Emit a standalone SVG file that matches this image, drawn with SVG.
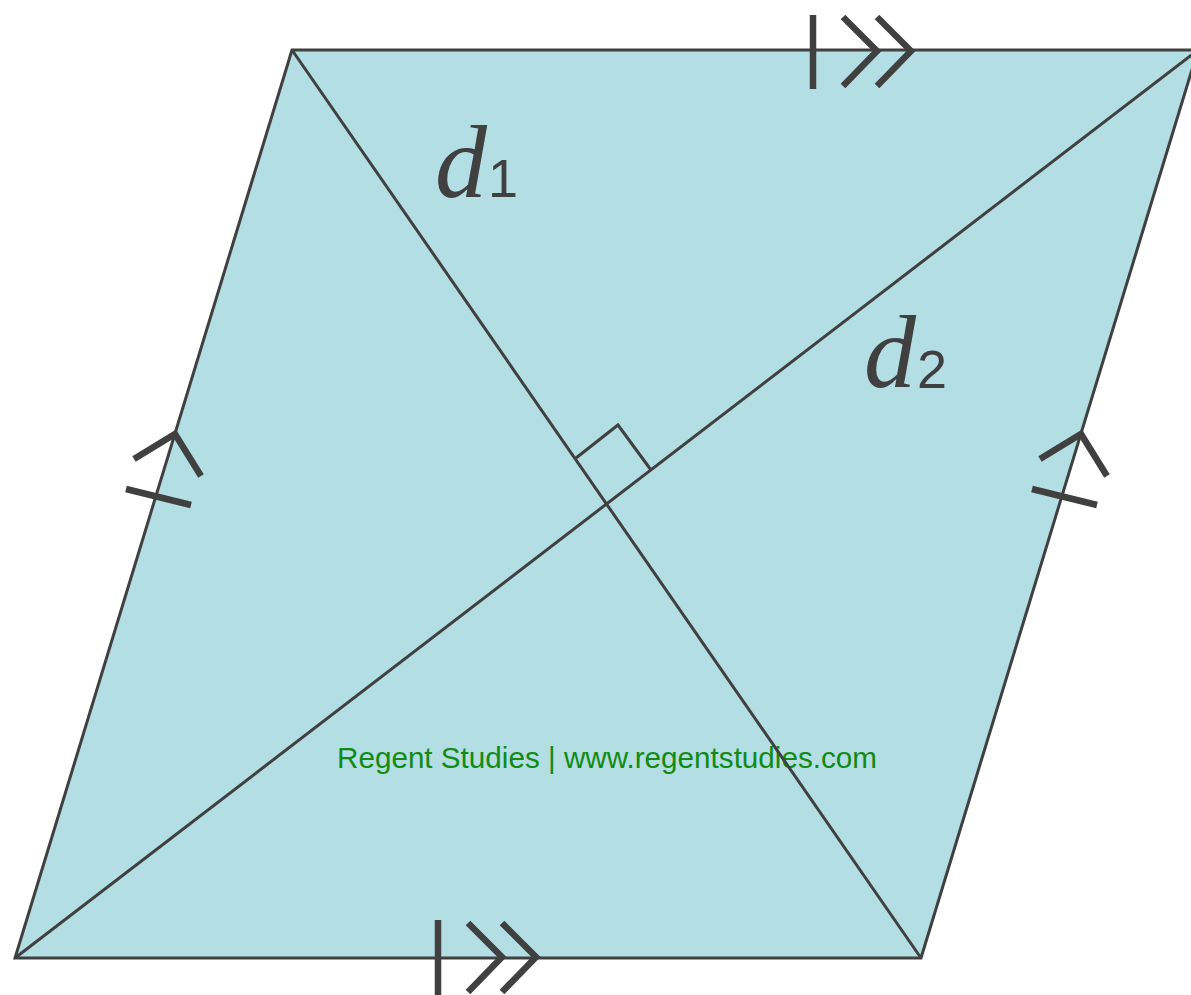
<svg xmlns="http://www.w3.org/2000/svg" width="1191" height="995" viewBox="0 0 1191 995">
<style>
.edge{fill:none;stroke:#404040;stroke-width:3;stroke-linejoin:miter}
.mark{fill:none;stroke:#404040;stroke-width:6.5;stroke-linecap:butt;stroke-linejoin:miter}
.var{font-family:"Liberation Serif",serif;font-style:italic;fill:#404040}
.sub{font-family:"Liberation Sans",sans-serif;fill:#404040}
.wm{font-family:"Liberation Sans Narrow","Liberation Sans",sans-serif;fill:#138a13}
</style>
<rect width="1191" height="995" fill="#ffffff"/>
<g id="parallelogram">
<polygon points="292,50 1198,50 921,958 15,958" fill="#b2dee4"/>
</g>
<g id="watermark">
<text class="wm" x="337" y="768" font-size="30" textLength="540" lengthAdjust="spacingAndGlyphs">Regent Studies | www.regentstudies.com</text>
</g>
<g id="connectors">
<polygon class="edge" points="292,50 1198,50 921,958 15,958"/>
<line class="edge" x1="292" y1="50" x2="921" y2="958"/>
<line class="edge" x1="15" y1="958" x2="1198" y2="50"/>
<polyline class="edge" points="576,458 618,425 651,470"/>
</g>
<g id="marks">
<line class="mark" x1="813" y1="15" x2="813" y2="89"/>
<polyline class="mark" points="843,17 877,51 843,86"/>
<polyline class="mark" points="877,17 911,51 877,86"/>
<line class="mark" x1="438" y1="920" x2="438" y2="995"/>
<polyline class="mark" points="468,923 502,957 468,992"/>
<polyline class="mark" points="502,923 536,957 502,992"/>
<polyline class="mark" points="134,459 175,434 201,476"/>
<line class="mark" x1="126" y1="489" x2="191" y2="505"/>
<polyline class="mark" points="1040,459 1081,434 1107,476"/>
<line class="mark" x1="1032" y1="489" x2="1097" y2="505"/>
</g>
<g id="label-d1">
<text class="var" x="435" y="197" font-size="104">d</text>
<text class="sub" x="488" y="197" font-size="54">1</text>
</g>
<g id="label-d2">
<text class="var" x="864" y="387" font-size="104">d</text>
<text class="sub" x="917" y="388" font-size="54">2</text>
</g>
</svg>
